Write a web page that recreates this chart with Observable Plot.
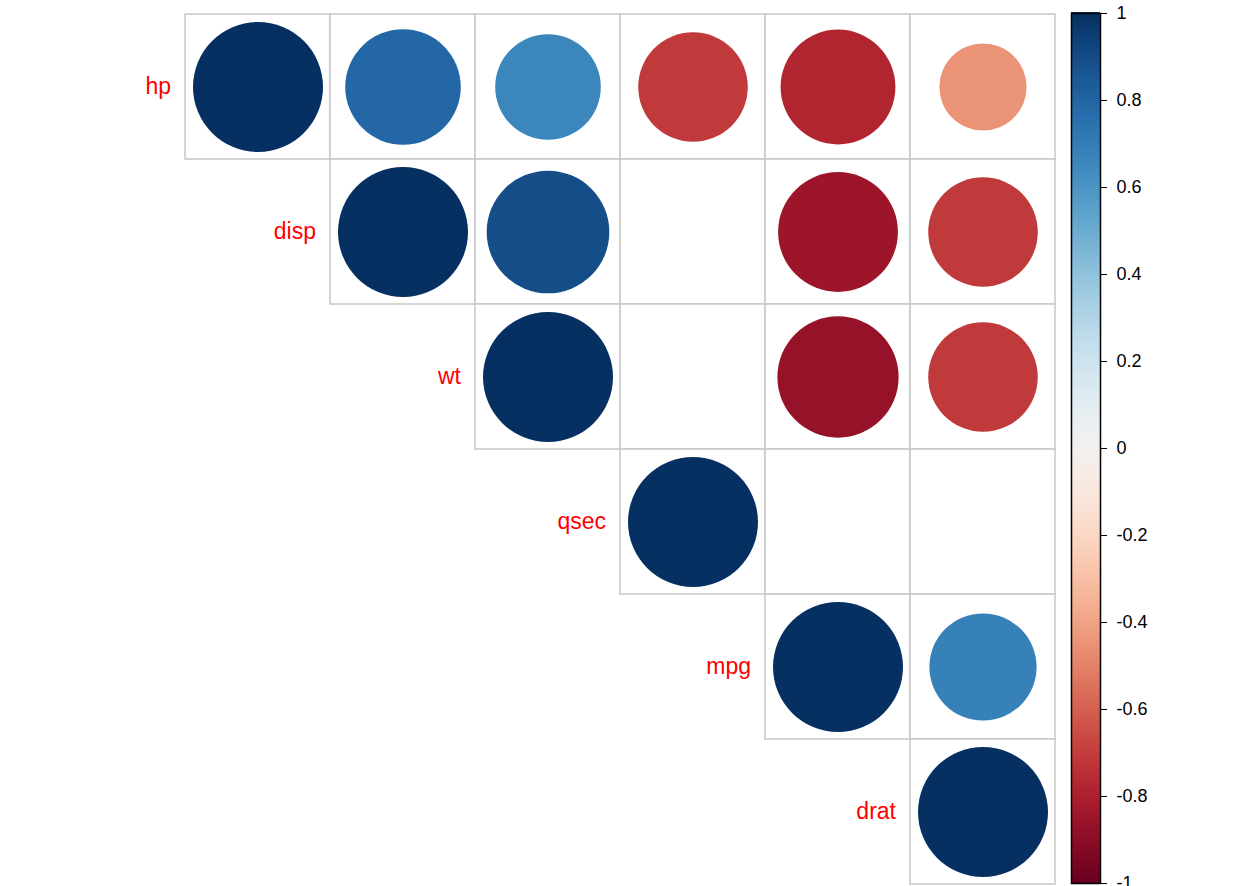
<!DOCTYPE html>
<html><head><meta charset="utf-8">
<script src="https://cdn.jsdelivr.net/npm/d3@7"></script>
<script src="https://cdn.jsdelivr.net/npm/@observablehq/plot@0.6"></script>
<style>body{margin:0;background:#fff}#wrap{position:relative;width:1240px;height:886px;overflow:hidden}#wrap svg{position:absolute;left:0;top:0}</style>
</head><body><div id="wrap"></div>
<script>
const vars = ["hp","disp","wt","qsec","mpg","drat"];
const rowVar = ["hp","hp","hp","hp","hp","hp","disp","disp","disp","disp","disp","wt","wt","wt","wt","qsec","qsec","qsec","mpg","mpg","drat"];
const colVar = ["hp","disp","wt","qsec","mpg","drat","disp","wt","qsec","mpg","drat","wt","qsec","mpg","drat","qsec","mpg","drat","mpg","drat","drat"];
const corr = [1,0.79,0.66,-0.71,-0.78,-0.45, 1,0.89,null,-0.85,-0.71, 1,null,-0.87,-0.71, 1,null,null, 1,0.68, 1];
const colorTicks = [-1,-0.8,-0.6,-0.4,-0.2,0,0.2,0.4,0.6,0.8,1];

const cells = rowVar.map((r,i)=>({row:r,col:colVar[i],v:corr[i]}));
const diag = vars.map(v=>({row:v,col:v}));
const font = "Liberation Sans, Arial, sans-serif";

const main = Plot.plot({
  width:1240,height:886,marginLeft:184,marginRight:184,marginTop:12,marginBottom:1,
  style:{fontFamily:font},
  x:{type:"band",domain:vars,padding:0,axis:null},
  y:{type:"band",domain:vars,padding:0,axis:null},
  r:{type:"sqrt",domain:[0,1],range:[0,65]},
  color:{type:"linear",scheme:"rdbu",domain:[-1,1]},
  marks:[
    Plot.cell(cells,{x:"col",y:"row",fill:"white",stroke:"#c8c8c8",strokeWidth:1.5}),
    Plot.dot(cells.filter(d=>d.v!=null),{x:"col",y:"row",r:d=>Math.abs(d.v),fill:"v",stroke:null}),
    Plot.text(diag,{x:"col",y:"row",text:"row",dx:-87,textAnchor:"end",fill:"red",fontSize:23})
  ]
});
const stops = d3.range(-1,1,0.005);
const bar = Plot.plot({
  width:1240,height:886,marginLeft:1071,marginRight:140,marginTop:13,marginBottom:3,
  style:{fontFamily:font,fontSize:"18px",background:"transparent"},
  x:{domain:[0,1],axis:null},
  y:{domain:[-1,1],ticks:colorTicks,tickFormat:d=>String(d),axis:"right",tickSize:6,label:null,tickPadding:10},
  color:{type:"linear",scheme:"rdbu",domain:[-1,1]},
  marks:[
    Plot.rect(stops,{x1:0,x2:1,y1:d=>d,y2:d=>d+0.008,fill:d=>d+0.0025,inset:0,shapeRendering:"crispEdges"}),
    Plot.frame({stroke:"black",strokeWidth:1.5})
  ]
});
document.getElementById("wrap").append(main,bar);
</script></body></html>
